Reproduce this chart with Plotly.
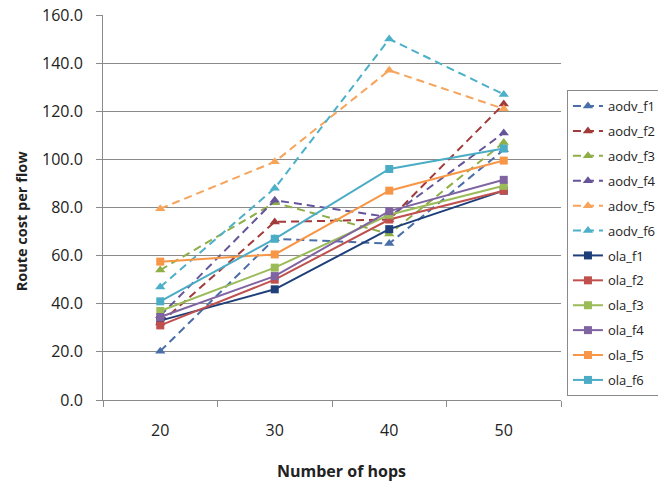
import plotly.graph_objects as go

# Number of hops (category axis)
hops = ["20", "30", "40", "50"]

# Route cost per flow for each AODV flow
aodv_f1 = [20.3, 67.0, 65.0, 104.0]
aodv_f2 = [32.0, 74.0, 75.0, 123.0]
aodv_f3 = [54.0, 82.0, 69.0, 107.0]
aodv_f4 = [35.0, 83.0, 76.0, 111.0]
adov_f5 = [79.5, 99.0, 137.0, 121.0]
aodv_f6 = [47.0, 88.0, 150.0, 127.0]

# Route cost per flow for each OLA flow
ola_f1 = [33.0, 46.0, 71.0, 87.0]
ola_f2 = [31.0, 50.0, 75.0, 87.0]
ola_f3 = [37.0, 55.0, 77.0, 89.0]
ola_f4 = [34.5, 51.5, 78.5, 91.5]
ola_f5 = [57.5, 60.5, 87.0, 99.5]
ola_f6 = [41.0, 67.0, 96.0, 104.5]

y_ticks = [0, 20, 40, 60, 80, 100, 120, 140, 160]

aodv_series = [
    ("aodv_f1", aodv_f1, "#4A6FA8"),
    ("aodv_f2", aodv_f2, "#A33A3A"),
    ("aodv_f3", aodv_f3, "#8EAE47"),
    ("aodv_f4", aodv_f4, "#65549A"),
    ("adov_f5", adov_f5, "#F7A35A"),
    ("aodv_f6", aodv_f6, "#4BB0C8"),
]
ola_series = [
    ("ola_f1", ola_f1, "#1F3F7A"),
    ("ola_f2", ola_f2, "#C0504D"),
    ("ola_f3", ola_f3, "#9BBB59"),
    ("ola_f4", ola_f4, "#8064A2"),
    ("ola_f5", ola_f5, "#F79646"),
    ("ola_f6", ola_f6, "#4BACC6"),
]

fig = go.Figure()

for name, vals, col in aodv_series:
    fig.add_trace(go.Scatter(
        x=hops, y=vals, name=name, legendgroup=name,
        mode="lines+markers",
        line=dict(color=col, width=2, dash="8px,5px"),
        marker=dict(symbol="triangle-up", size=9, color=col),
    ))

for name, vals, col in ola_series:
    fig.add_trace(go.Scatter(
        x=hops, y=vals, name=name, legendgroup=name,
        mode="lines+markers",
        line=dict(color=col, width=2),
        marker=dict(symbol="square", size=8, color=col),
    ))

font_family = "Open Sans, Noto Sans, sans-serif"

fig.update_layout(
    width=658, height=485,
    margin=dict(l=103, r=97, t=15, b=85, autoexpand=False),
    paper_bgcolor="white",
    plot_bgcolor="white",
    font=dict(family=font_family, size=16, color="#222222"),
    showlegend=True,
    legend=dict(
        x=1.013, xanchor="left",
        y=0.805, yanchor="top",
        bordercolor="#8A8A8A", borderwidth=1,
        bgcolor="white",
        font=dict(size=13, color="#222222"),
        traceorder="grouped",
        tracegroupgap=5,
        itemwidth=30,
    ),
    xaxis=dict(
        type="category",
        categoryorder="array", categoryarray=hops,
        range=[-0.5, 3.5],
        tickson="boundaries",
        ticks="outside", ticklen=6, tickcolor="#8A8A8A",
        showline=True, linecolor="#8A8A8A", linewidth=1,
        showgrid=False,
        ticklabelstandoff=16,
        tickfont=dict(size=16),
        automargin=False,
    ),
    yaxis=dict(
        range=[0, 160],
        tickvals=y_ticks,
        tickformat=".1f",
        ticks="outside", ticklen=6, tickcolor="#8A8A8A",
        showline=True, linecolor="#8A8A8A", linewidth=1,
        showgrid=True, gridcolor="#8A8A8A", gridwidth=1,
        zeroline=False,
        ticklabelstandoff=10,
        tickfont=dict(size=16),
        automargin=False,
    ),
    annotations=[
        dict(text="<b>Route cost per flow</b>", xref="paper", yref="paper",
             x=-0.176, y=0.465, xanchor="center", yanchor="middle",
             textangle=-90, showarrow=False, font=dict(size=14.5)),
        dict(text="<b>Number of hops</b>", xref="paper", yref="paper",
             x=0.52, y=-0.185, xanchor="center", yanchor="middle",
             showarrow=False, font=dict(size=16)),
    ],
)

fig.write_html("out.html")
